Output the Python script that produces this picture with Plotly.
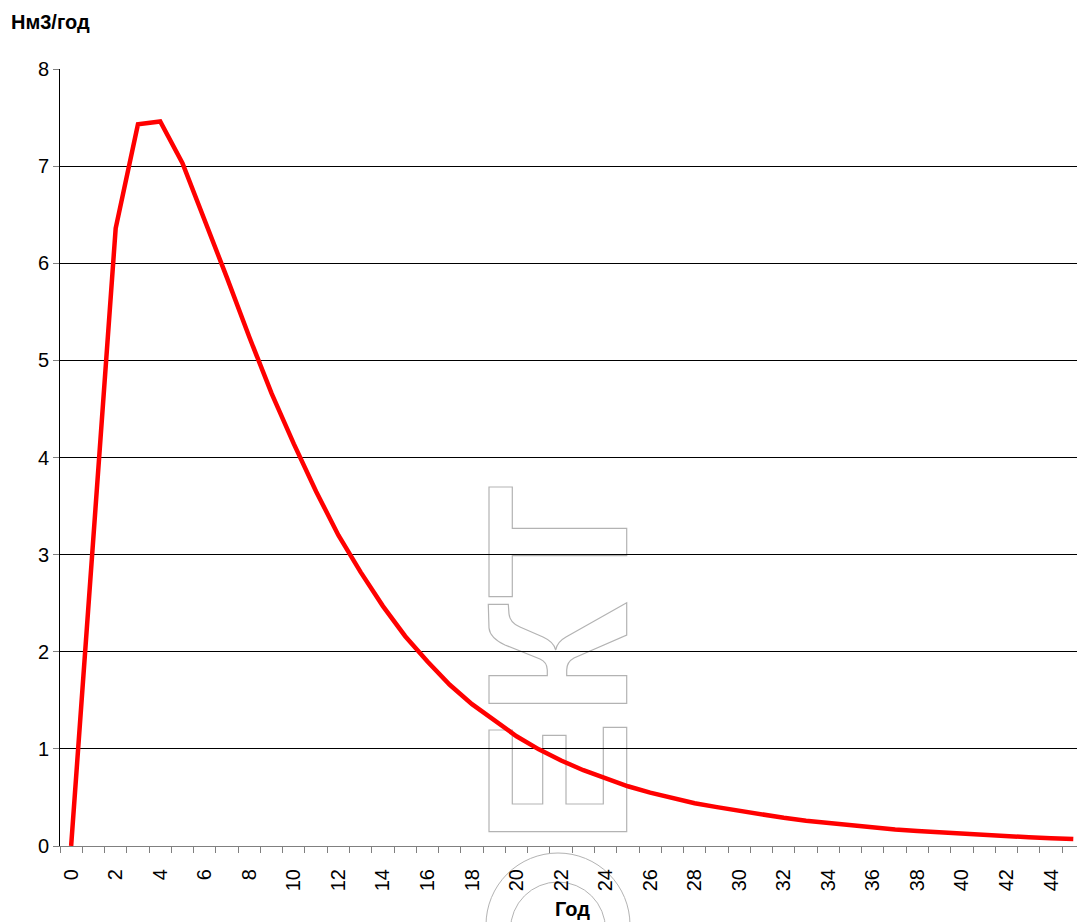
import plotly.graph_objects as go

# Annual volume by year
years = list(range(0, 46))
volume = [0, 3.18, 6.36, 7.43, 7.46, 7.03, 6.45, 5.85, 5.24, 4.66,
          4.14, 3.65, 3.20, 2.82, 2.47, 2.16, 1.90, 1.66, 1.46, 1.29,
          1.13, 0.995, 0.88, 0.78, 0.70, 0.615, 0.55, 0.49, 0.44, 0.40,
          0.36, 0.32, 0.29, 0.26, 0.235, 0.21, 0.19, 0.17, 0.155, 0.14,
          0.125, 0.115, 0.10, 0.09, 0.08, 0.072]
x_tick_vals = list(range(0, 46, 2))
y_tick_vals = list(range(0, 9))

W, H = 1077, 922
ML, MR, MT, MB = 60, 0, 69, 76
PW, PH = W - ML - MR, H - MT - MB


def px(x):
    return (x - ML) / PW


def py(y):
    return (H - MB - y) / PH


def path(points, closed=True):
    s = "M " + " L ".join(f"{px(a):.5f},{py(b):.5f}" for a, b in points)
    return s + (" Z" if closed else "")


def qpath(cmds):
    out = []
    for c in cmds:
        op, pts = c[0], c[1:]
        out.append(op + " " + " ".join(f"{px(a):.5f},{py(b):.5f}" for a, b in pts))
    return " ".join(out) + " Z"


wm_style = dict(color="#b3b3b3", width=1.2)

# Outlined watermark letters
letter_t = path([(489, 487), (512.3, 487), (512.3, 528.3), (626.7, 528.3),
                 (626.7, 555.7), (512.3, 555.7), (512.3, 596.7), (489, 596.7)])
letter_k = qpath([
    ("M", (488.3, 604.3)), ("L", (508.3, 604.3)), ("L", (509, 614)),
    ("Q", (510, 623), (520, 627)), ("L", (543, 637)),
    ("Q", (554, 642), (555.7, 650)),
    ("Q", (557, 642), (566, 637)), ("L", (626.7, 602.7)), ("L", (626.7, 635)),
    ("L", (574, 658)), ("Q", (566.7, 662), (566.7, 670)), ("L", (566.7, 675.7)),
    ("L", (626.7, 675.7)), ("L", (626.7, 703.3)), ("L", (489, 703.3)),
    ("L", (489, 675.7)), ("L", (547.3, 675.7)), ("L", (547.3, 670)),
    ("Q", (547, 662), (540, 659)), ("L", (505, 645)),
    ("Q", (490, 638), (489, 628)), ("L", (488.3, 604.3)),
])
letter_e = path([(489, 730), (512.3, 730), (512.3, 804), (542.7, 804),
                 (542.7, 735.3), (566, 735.3), (566, 804), (603.3, 804),
                 (603.3, 727.3), (626.7, 727.3), (626.7, 831.7), (489, 831.7)])

shapes = [
    dict(type="path", xref="paper", yref="paper", path=p, line=wm_style,
         fillcolor="rgba(0,0,0,0)", layer="below")
    for p in (letter_t, letter_k, letter_e)
]
for cx, cy, r in [(558, 925, 72), (558, 929.5, 47.5)]:
    shapes.append(dict(type="circle", xref="paper", yref="paper",
                       x0=px(cx - r), x1=px(cx + r), y0=py(cy + r), y1=py(cy - r),
                       line=dict(color="#b3b3b3", width=1), layer="below"))

fig = go.Figure()
fig.add_trace(go.Scatter(x=years, y=volume, mode="lines",
                         line=dict(color="#ff0000", width=4.5),
                         hoverinfo="x+y", showlegend=False))

font_family = "Liberation Sans, Arial, sans-serif"
fig.update_layout(
    width=W, height=H,
    margin=dict(l=ML, r=MR, t=MT, b=MB, pad=0),
    paper_bgcolor="white", plot_bgcolor="white",
    font=dict(family=font_family, size=20, color="black"),
    shapes=shapes,
    xaxis=dict(
        range=[-0.5, -0.5 + PW / 22.27],
        tickmode="array", tickvals=x_tick_vals,
        ticktext=[str(v) for v in x_tick_vals],
        tickangle=-90, ticks="outside", ticklen=14,
        tickcolor="rgba(0,0,0,0)",
        minor=dict(tick0=-0.5, dtick=1, ticks="outside", ticklen=6,
                   tickcolor="#808080", showgrid=False),
        showline=True, linecolor="#808080", linewidth=1,
        showgrid=False, zeroline=False,
        tickfont=dict(size=20),
    ),
    yaxis=dict(
        range=[0, 8], tickmode="array", tickvals=y_tick_vals,
        ticks="outside", ticklen=6, tickcolor="#808080",
        showline=True, linecolor="black", linewidth=1,
        showgrid=True, gridcolor="black", gridwidth=1,
        zeroline=False, tickfont=dict(size=20),
    ),
    annotations=[
        dict(text="<b>Нм3/год</b>", xref="paper", yref="paper",
             x=px(9), y=py(22), xanchor="left", yanchor="middle",
             showarrow=False, font=dict(size=20)),
        dict(text="<b>Год</b>", xref="paper", yref="paper",
             x=px(572), y=py(921), xanchor="center", yanchor="bottom",
             borderpad=0, showarrow=False, font=dict(size=20)),
    ],
)

fig.write_html("out.html")
